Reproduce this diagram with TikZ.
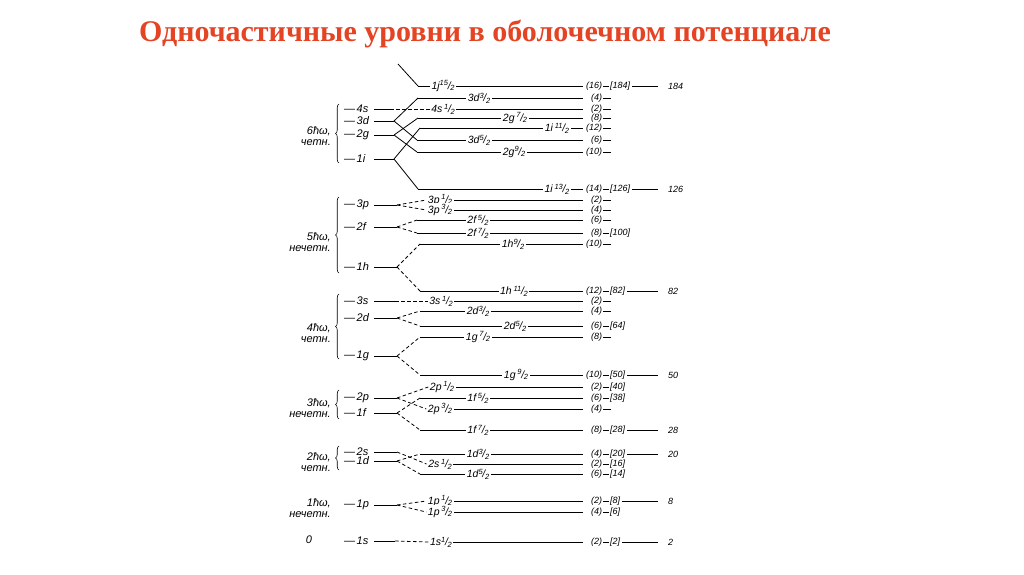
\documentclass[tikz,border=0pt]{standalone}
\usepackage{fontspec}
\setmainfont{Liberation Serif}
\newfontfamily\labf{Liberation Sans}
\usetikzlibrary{decorations.pathreplacing}
\definecolor{ttlred}{RGB}{228,68,36}
\newcommand\fr[2]{\raisebox{0.6ex}{\fontsize{7.5}{8}\selectfont#1}\kern-0.2pt/\kern-0.4pt\raisebox{-0.3ex}{\fontsize{7.5}{8}\selectfont#2}}
\tikzset{
  lv/.style={line width=0.8pt, black},
  dsh/.style={lv, dash pattern=on 3.5pt off 2.5pt},
  rlab/.style={font=\labf\itshape\fontsize{10.5}{11}\selectfont, fill=white, inner sep=1.5pt},
  cnt/.style={font=\labf\itshape\fontsize{9}{10}\selectfont, inner sep=0.8pt},
  llab/.style={font=\labf\itshape\fontsize{11}{12}\selectfont, anchor=west, inner sep=0pt},
  grp/.style={font=\labf\itshape\fontsize{11}{11.5}\selectfont, align=right, anchor=east, inner sep=0pt},
  brc/.style={lv, line width=0.6pt, decorate, decoration={brace, amplitude=3.5pt}},
}
\newcommand\Lv[6]{%
  \coordinate (#1) at (#3,#2);
  \coordinate (#1e) at (583,#2);
  \node[cnt,anchor=east] (#1c) at (603,#2) {(#6)};
  \draw[lv] (#1) -- (#1e);
  \node[rlab] (#1t) at (#4,#2) {#5};
}
\newcommand\Dsh[1]{\coordinate (#1d) at ([xshift=8pt]#1c.east); \draw[lv] (#1c.east) -- (#1d);}
\newcommand\Mg[2]{\node[cnt,anchor=west] (#1m) at ([xshift=6pt]#1c.east) {[#2]}; \draw[lv] (#1c.east) -- (#1m.west);}
\newcommand\Fn[2]{\node[cnt,anchor=west] (#1f) at (#1m.east -| xf) {#2}; \draw[lv] ([xshift=1pt]#1m.east) -- (#1m.east -| xd);}
\newcommand\LL[4]{%
  \node[llab] (#1) at (344,#2) {—\kern1.5pt #3};
  \coordinate (#1a) at (374,#2);
  \coordinate (#1j) at (#4,#2);
  \draw[lv] (#1a) -- (#1j);
}
\begin{document}
\begin{tikzpicture}[x=1pt,y=-1pt]
\fill[white] (0,0) rectangle (1024,574);
\useasboundingbox (0,0) rectangle (1024,574);
\coordinate (xf) at (667,0);
\coordinate (xd) at (658,0);

\node[font=\bfseries\fontsize{30}{33}\selectfont, text=ttlred, anchor=base] (T) at (485,41) {Одночастичные уровни в оболочечном потенциале};

% ---------- right-hand levels ----------
% 6 hbar omega
\Lv{j15}{86}{418}{443}{1j\fr{15}{2}}{16}  \Mg{j15}{184} \Fn{j15}{184}
\Lv{d3a}{98}{418}{479}{3d\fr{3}{2}}{4}    \Dsh{d3a}
\Lv{s4}{109}{443}{443}{4s\,\fr{1}{2}}{2}  \Dsh{s4}
\Lv{g7}{118}{418}{515}{2g\,\fr{7}{2}}{8}  \Dsh{g7}
\Lv{i11}{128}{420}{557}{1i\,\fr{11}{2}}{12} \Dsh{i11}
\Lv{d5a}{140}{417}{479}{3d\fr{5}{2}}{6}   \Dsh{d5a}
\Lv{g9}{152}{417}{514}{2g\fr{9}{2}}{10}   \Dsh{g9}
\Lv{i13}{189}{418}{557}{1i\,\fr{13}{2}}{14} \Mg{i13}{126} \Fn{i13}{126}
% 5 hbar omega
\Lv{p1c}{200}{440}{440}{3p\,\fr{1}{2}}{2} \Dsh{p1c}
\Lv{p3c}{210}{440}{440}{3p\,\fr{3}{2}}{4} \Dsh{p3c}
\Lv{f5b}{220}{417}{478}{2f\,\fr{5}{2}}{6} \Dsh{f5b}
\Lv{f7b}{233}{417}{478}{2f\,\fr{7}{2}}{8} \Mg{f7b}{100}
\Lv{h9}{244}{420}{513}{1h\fr{9}{2}}{10}   \Dsh{h9}
\Lv{h11}{291}{420}{514}{1h\,\fr{11}{2}}{12} \Mg{h11}{82} \Fn{h11}{82}
% 4 hbar omega
\Lv{s3}{301}{441}{441}{3s\,\fr{1}{2}}{2}  \Dsh{s3}
\Lv{d3b}{311}{420}{478}{2d\fr{3}{2}}{4}   \Dsh{d3b}
\Lv{d5b}{326}{420}{515}{2d\fr{5}{2}}{6}   \Mg{d5b}{64}
\Lv{g7b}{337}{420}{478}{1g\,\fr{7}{2}}{8} \Dsh{g7b}
\Lv{g9b}{375}{420}{516}{1g\,\fr{9}{2}}{10} \Mg{g9b}{50} \Fn{g9b}{50}
% 3 hbar omega
\Lv{p1b}{387}{442}{442}{2p\,\fr{1}{2}}{2} \Mg{p1b}{40}
\Lv{f5a}{398}{420}{478}{1f\,\fr{5}{2}}{6} \Mg{f5a}{38}
\Lv{p3b}{409}{440}{440}{2p\,\fr{3}{2}}{4} \Dsh{p3b}
\Lv{f7a}{430}{420}{478}{1f\,\fr{7}{2}}{8} \Mg{f7a}{28} \Fn{f7a}{28}
% 2 hbar omega
\Lv{d3c}{454}{420}{478}{1d\fr{3}{2}}{4}   \Mg{d3c}{20} \Fn{d3c}{20}
\Lv{s2}{464}{440}{440}{2s\,\fr{1}{2}}{2}  \Mg{s2}{16}
\Lv{d5c}{474}{420}{478}{1d\fr{5}{2}}{6}   \Mg{d5c}{14}
% 1 hbar omega
\Lv{p1a}{501}{440}{440}{1p\,\fr{1}{2}}{2} \Mg{p1a}{8} \Fn{p1a}{8}
\Lv{p3a}{512}{440}{440}{1p\,\fr{3}{2}}{4} \Mg{p3a}{6}
% 0
\Lv{s1}{542}{441}{441}{1s\fr{1}{2}}{2}    \Mg{s1}{2} \Fn{s1}{2}

% ---------- left-hand oscillator levels ----------
\LL{L4s}{109}{4s}{390}
\LL{L3d}{121}{3d}{394}
\LL{L2g}{135}{2g}{394}
\LL{L1i}{159}{1i}{394}
\LL{L3p}{205}{3p}{397}
\LL{L2f}{227}{2f}{397}
\LL{L1h}{267}{1h}{397}
\LL{L3s}{301}{3s}{395}
\LL{L2d}{318}{2d}{397}
\LL{L1g}{356}{1g}{397}
\LL{L2p}{398}{2p}{397}
\LL{L1f}{413}{1f}{397}
\LL{L2s}{452}{2s}{397}
\LL{L1d}{461}{1d}{397}
\LL{L1p}{505}{1p}{397}
\LL{L1s}{541}{1s}{395}

% ---------- splitting connectors ----------
\coordinate (jtop) at (398,64);
\draw[lv] (jtop) -- (j15);
\draw[dsh] (L4sj) -- (s4t.west);
\draw[lv] (L3dj) -- (d3a);
\draw[lv] (L3dj) -- (d5a);
\draw[lv] (L2gj) -- (g7);
\draw[lv] (L2gj) -- (g9);
\draw[lv] (L1ij) -- (i11);
\draw[lv] (L1ij) -- (i13);

\draw[dsh] (L3pj) -- (p1ct.west);
\draw[dsh] (L3pj) -- (p3ct.west);
\draw[dsh] (L2fj) -- (f5b);
\draw[dsh] (L2fj) -- (f7b);
\draw[dsh] (L1hj) -- (h9);
\draw[dsh] (L1hj) -- (h11);

\draw[dsh] (L3sj) -- (s3t.west);
\draw[dsh] (L2dj) -- (d3b);
\draw[dsh] (L2dj) -- (d5b);
\draw[dsh] (L1gj) -- (g7b);
\draw[dsh] (L1gj) -- (g9b);

\draw[dsh] (L2pj) -- (p1bt.west);
\draw[dsh] (L2pj) -- (p3bt.west);
\draw[dsh] (L1fj) -- (f5a);
\draw[dsh] (L1fj) -- (f7a);

\draw[dsh] (L2sj) -- (s2t.west);
\draw[dsh] (L1dj) -- (d3c);
\draw[dsh] (L1dj) -- (d5c);

\draw[dsh] (L1pj) -- (p1at.west);
\draw[dsh] (L1pj) -- (p3at.west);

\draw[dsh] (L1sj) -- (s1t.west);

% ---------- shell labels and braces ----------
\node[grp] (G6) at (331,136) {6ħω,\\четн.};
\node[grp] (G5) at (331,242) {5ħω,\\нечетн.};
\node[grp] (G4) at (331,333) {4ħω,\\четн.};
\node[grp] (G3) at (331,408) {3ħω,\\нечетн.};
\node[grp] (G2) at (331,462) {2ħω,\\четн.};
\node[grp] (G1) at (331,508) {1ħω,\\нечетн.};
\node[grp,anchor=center] (G0) at (309,540) {0};

\draw[brc] (339,163) -- (339,104);
\draw[brc] (339,273) -- (339,197);
\draw[brc] (339,359) -- (339,294);
\draw[brc] (339,419) -- (339,390);
\draw[brc] (339,470) -- (339,446);
\end{tikzpicture}
\end{document}
